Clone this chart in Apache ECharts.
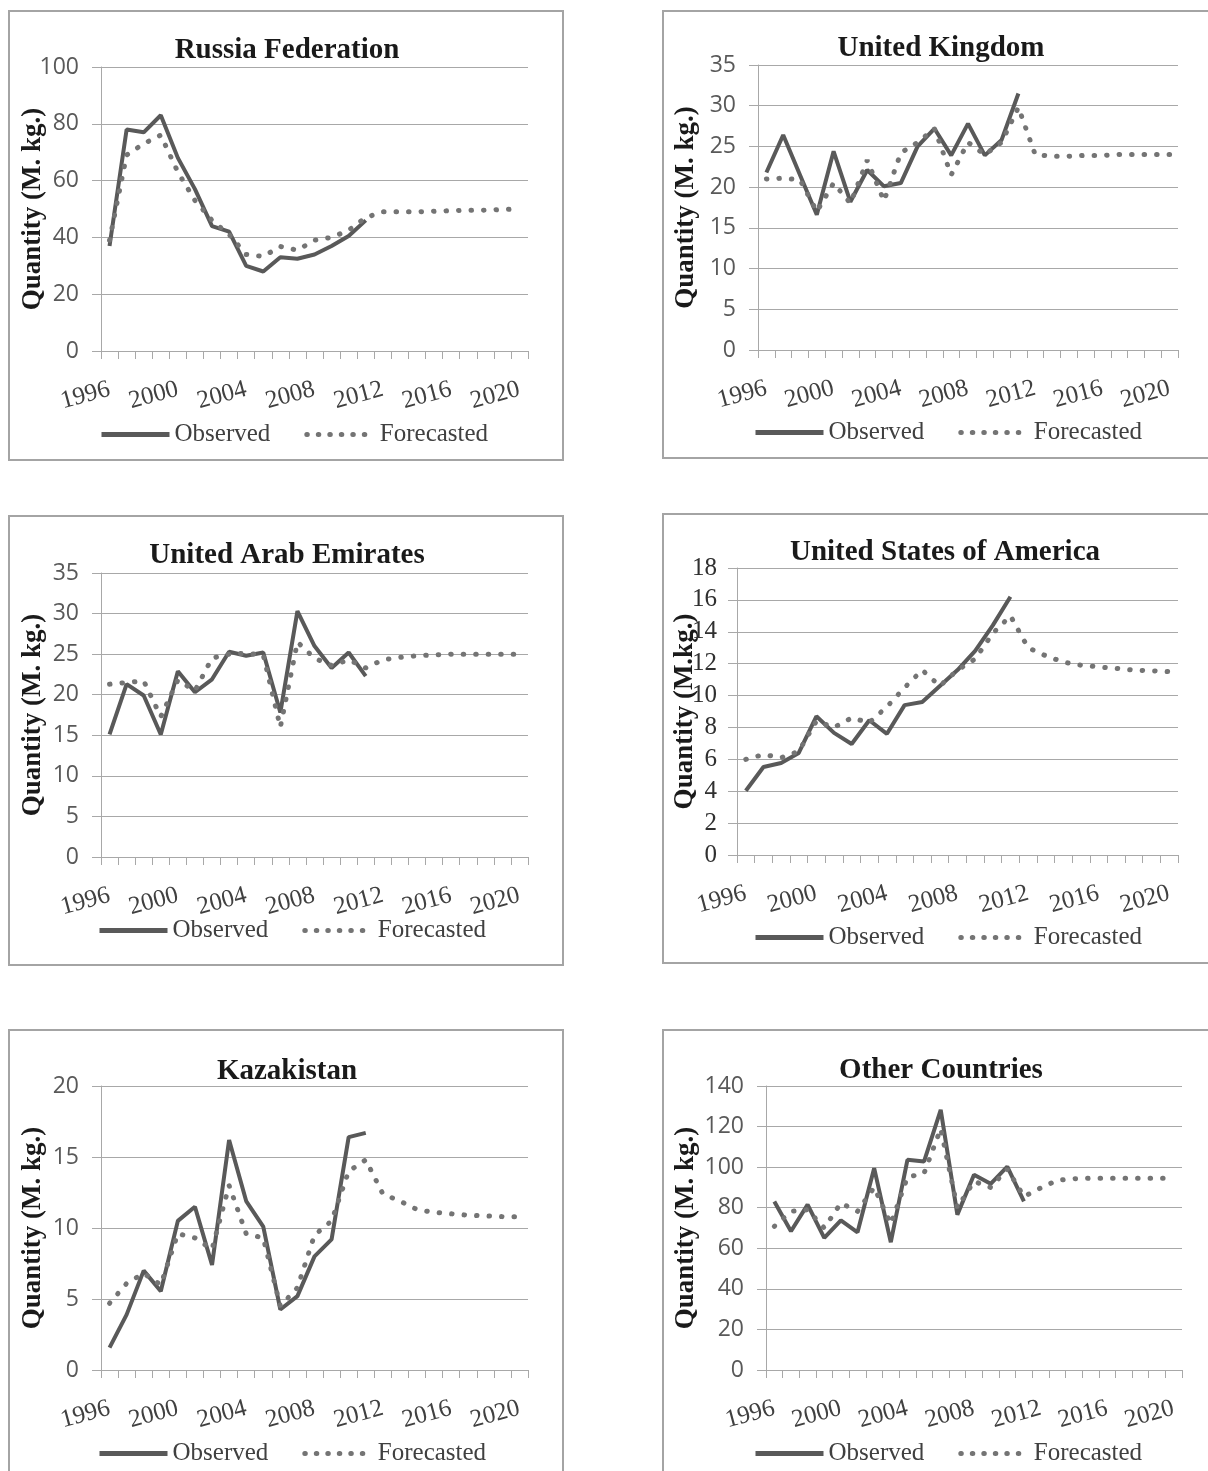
<!DOCTYPE html>
<html><head><meta charset="utf-8">
<script src="https://cdn.jsdelivr.net/npm/echarts@6/dist/echarts.min.js"></script>
<style>html,body{margin:0;padding:0;background:#fff}#c{width:1208px;height:1471px}</style>
</head><body><div id="c"></div>
<script>
// ---- data ----
const years = ['1996','1997','1998','1999','2000','2001','2002','2003','2004','2005','2006','2007','2008',
               '2009','2010','2011','2012','2013','2014','2015','2016','2017','2018','2019','2020'];

const rusObserved   = [37, 78, 77, 83, 68, 57, 44, 42, 30, 28, 33, 32.5, 34, 37, 40.5, 46];
const rusForecasted = [39, 69, 73, 76, 63, 53, 46, 41, 34, 33.3, 36.8, 35.5, 39, 40, 42.5, 47, 49, 49, 49, 49.2, 49.4, 49.5, 49.6, 49.8, 50];

const ukObserved    = [21.8, 26.4, 21.5, 16.6, 24.4, 18.2, 22.1, 20.1, 20.5, 25.0, 27.2, 23.9, 27.8, 23.9, 25.8, 31.5];
const ukForecasted  = [21.0, 21.1, 20.9, 17.0, 20.5, 18.0, 23.3, 18.3, 24.2, 25.5, 27.2, 21.5, 25.5, 24.0, 25.5, 29.8, 24.0, 23.8, 23.8, 23.9, 23.9, 24.0, 24.0, 24.0, 24.0];

const uaeObserved   = [15.1, 21.3, 19.9, 15.1, 22.9, 20.3, 21.9, 25.3, 24.8, 25.2, 17.8, 30.3, 26.0, 23.3, 25.2, 22.3];
const uaeForecasted = [21.3, 21.5, 21.7, 17.3, 21.8, 20.5, 24.5, 25.0, 25.1, 24.9, 16.0, 26.5, 24.5, 23.6, 24.3, 23.3, 24.3, 24.6, 24.8, 24.9, 25.0, 25.0, 25.0, 25.0, 25.0];

const usaObserved   = [4.03, 5.52, 5.77, 6.4, 8.7, 7.66, 6.96, 8.45, 7.6, 9.4, 9.6, 10.6, 11.6, 12.8, 14.4, 16.2];
const usaForecasted = [6.0, 6.3, 6.1, 6.5, 8.4, 8.0, 8.6, 8.3, 9.3, 10.5, 11.6, 10.6, 11.6, 12.3, 13.9, 15.0, 13.0, 12.5, 12.1, 11.9, 11.8, 11.7, 11.6, 11.55, 11.5];

const kazObserved   = [1.57, 3.9, 7.0, 5.55, 10.5, 11.5, 7.4, 16.2, 11.9, 10.1, 4.26, 5.2, 8.0, 9.2, 16.4, 16.7];
const kazForecasted = [4.7, 6.1, 6.8, 6.0, 9.6, 9.3, 8.5, 13.0, 9.6, 9.3, 4.5, 5.8, 9.5, 10.5, 14.0, 14.8, 12.4, 11.9, 11.3, 11.1, 11.0, 10.9, 10.85, 10.8, 10.8];

const othObserved   = [83.1, 68.4, 81.5, 65.1, 73.8, 67.9, 99.5, 63.0, 103.6, 102.8, 128.2, 76.6, 96.2, 91.8, 100.3, 83.1];
const othForecasted = [70.8, 78.2, 79.0, 70.0, 82.3, 78.2, 90.0, 72.0, 95.0, 97.0, 119.0, 80.0, 93.0, 90.0, 99.0, 85.5, 89.7, 93.5, 94.3, 94.5, 94.5, 94.5, 94.5, 94.5, 94.5];

const titles = ['Russia Federation','United Kingdom','United Arab Emirates','United States of America','Kazakistan','Other Countries'];
const yNames = ['Quantity (M. kg.)','Quantity (M. kg.)','Quantity (M. kg.)','Quantity (M.kg.)','Quantity (M. kg.)','Quantity (M. kg.)'];
const yMax   = [100, 35, 35, 18, 20, 140];
const yStep  = [20, 5, 5, 2, 5, 20];
const legendNames = ['Observed','Forecasted'];

// ---- layout / styles ----
const layout = [
  {obs:rusObserved, fc:rusForecasted, box:[9,11,563,460],    plot:[101,67,528,351],    tx:287, ty:36,   gap:54, lg:[99,422],   serif:false},
  {obs:ukObserved,  fc:ukForecasted,  box:[663,11,1215,458], plot:[758,65,1178,350],   tx:941, ty:34,   gap:58, lg:[753,420],  serif:false},
  {obs:uaeObserved, fc:uaeForecasted, box:[9,516,563,965],   plot:[101,573,528,857],   tx:287, ty:541,  gap:54, lg:[97,918],   serif:false},
  {obs:usaObserved, fc:usaForecasted, box:[663,514,1215,963],plot:[737,568,1178,855],  tx:945, ty:538,  gap:38, lg:[753,925],  serif:true},
  {obs:kazObserved, fc:kazForecasted, box:[9,1030,563,1480], plot:[101,1086,528,1370], tx:287, ty:1057, gap:54, lg:[97,1441],  serif:false},
  {obs:othObserved, fc:othForecasted, box:[663,1030,1215,1480],plot:[766,1086,1182,1370],tx:941, ty:1056, gap:66, lg:[753,1441], serif:false}
];

const gridC = '#a8a8a8';
const obsStyle = {color:'#595959', width:4};
const fcStyle  = {color:'#747474', width:5, type:[0.5, 12], cap:'round'};
const option = {animation:false, grid:[], xAxis:[], yAxis:[], series:[], title:[], legend:[], graphic:[]};

layout.forEach((p, i) => {
  option.graphic.push({type:'rect', shape:{x:p.box[0], y:p.box[1], width:p.box[2]-p.box[0], height:p.box[3]-p.box[1]},
    style:{fill:'none', stroke:'#a4a4a4', lineWidth:2}, silent:true, z:-1});
  option.grid.push({left:p.plot[0], top:p.plot[1], width:p.plot[2]-p.plot[0], height:p.plot[3]-p.plot[1], containLabel:false});
  option.xAxis.push({type:'category', gridIndex:i, data:years, boundaryGap:true,
    axisLine:{show:true, lineStyle:{color:gridC, width:1}},
    axisTick:{show:true, interval:0, length:8, lineStyle:{color:gridC}},
    axisLabel:{interval:3, rotate:15, margin:38, fontFamily:'Liberation Serif', fontSize:25, color:'#404040'},
    splitLine:{show:false}});
  option.yAxis.push({type:'value', gridIndex:i, min:0, max:yMax[i], interval:yStep[i],
    name:yNames[i], nameLocation:'middle', nameRotate:90, nameGap:p.gap, nameMoveOverlap:false,
    nameTextStyle:{fontFamily:'Liberation Serif', fontWeight:'bold', fontSize:27, color:'#1a1a1a'},
    axisLine:{show:true, lineStyle:{color:gridC, width:1}},
    axisTick:{show:true, length:9, lineStyle:{color:gridC}},
    axisLabel:p.serif ? {margin:20, fontFamily:'Liberation Serif', fontSize:25, color:'#303030'}
                      : {margin:22, fontFamily:'Open Sans', fontSize:23, color:'#595959'},
    splitLine:{show:true, lineStyle:{color:gridC, width:1}}});
  option.series.push({name:legendNames[0], type:'line', xAxisIndex:i, yAxisIndex:i, data:p.obs, symbol:'none',
    color:obsStyle.color, lineStyle:obsStyle, z:2, silent:true});
  option.series.push({name:legendNames[1], type:'line', xAxisIndex:i, yAxisIndex:i, data:p.fc, symbol:'none',
    color:fcStyle.color, lineStyle:fcStyle, z:3, silent:true});
  option.title.push({text:titles[i], left:p.tx, top:p.ty, textAlign:'center', padding:0,
    textStyle:{fontFamily:'Liberation Serif', fontWeight:'bold', fontSize:29, color:'#1a1a1a'}});
  option.legend.push({
    data:[{name:legendNames[0], lineStyle:{color:obsStyle.color, width:5}},
          {name:legendNames[1], lineStyle:{color:fcStyle.color, width:5, type:[0.5, 11], cap:'round'}}],
    left:p.lg[0], top:p.lg[1], padding:0, itemWidth:68, itemHeight:12, itemGap:34,
    selectedMode:false, itemStyle:{opacity:0},
    textStyle:{fontFamily:'Liberation Serif', fontSize:25, color:'#404040', padding:[0,0,0,0]}});
});

const chart = echarts.init(document.getElementById('c'), null, {renderer:'canvas'});
chart.setOption(option);
</script></body></html>
